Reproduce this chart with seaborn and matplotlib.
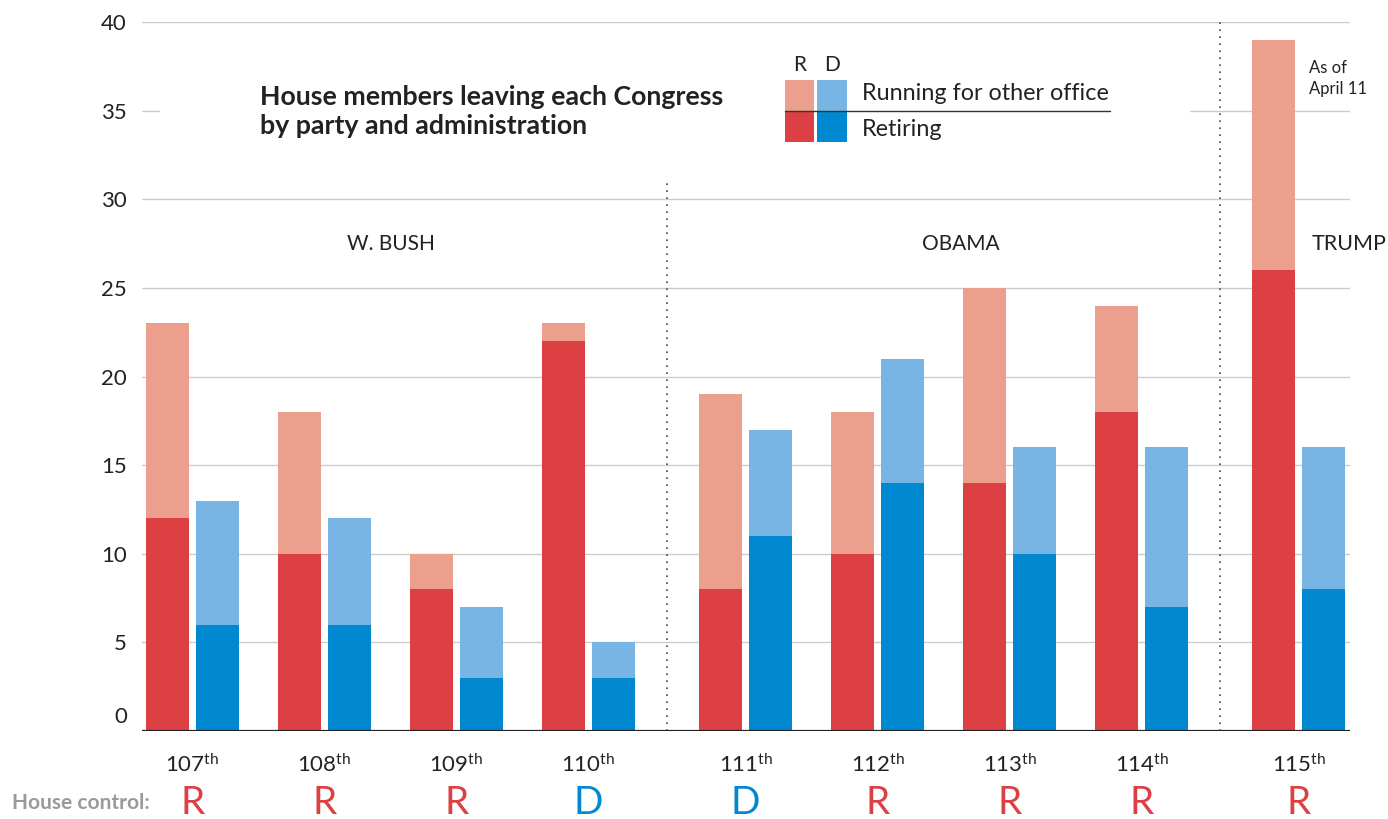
import pandas as pd
import matplotlib.pyplot as plt
import matplotlib.transforms as mtrans
from matplotlib.patches import Rectangle
from matplotlib.lines import Line2D
import seaborn as sns

# data
congress = ["107", "108", "109", "110", "111", "112", "113", "114", "115"]
admin = ["W. BUSH"] * 4 + ["OBAMA"] * 4 + ["TRUMP"]
control = ["R", "R", "R", "D", "D", "R", "R", "R", "R"]
r_total = [23, 18, 10, 23, 19, 18, 25, 24, 39]
r_retiring = [12, 10, 8, 22, 8, 10, 14, 18, 26]
d_total = [13, 12, 7, 5, 17, 21, 16, 16, 16]
d_retiring = [6, 6, 3, 3, 11, 14, 10, 7, 8]
yticks = [5, 10, 15, 20, 25, 30, 35, 40]

light = {"R": "#EB9F8C", "D": "#78B5E4"}
dark = {"R": "#DC4042", "D": "#0089D0"}

sns.set_style("white")
plt.rcParams['font.family'] = ['Lato', 'DejaVu Sans']
plt.rcParams['mathtext.default'] = 'regular'
TXT = "#222222"

# bar positions: one slot per congress, extra gap between administrations
admins = list(dict.fromkeys(admin))
pos = [i + 0.19 * admins.index(a) for i, a in enumerate(admin)]

df = pd.DataFrame({
    "pos": pos * 2,
    "party": ["R"] * len(pos) + ["D"] * len(pos),
    "total": r_total + d_total,
    "retiring": r_retiring + d_retiring,
})

W, H = 1388, 819
fx = lambda x: x / W
fy = lambda y: 1 - y / H

fig = plt.figure(figsize=(13.88, 8.19), dpi=100)
ax = fig.add_axes([fx(142), fy(731), fx(1350) - fx(142), fy(22) - fy(731)])

for col, pal in [("total", light), ("retiring", dark)]:
    sns.barplot(data=df, x="pos", y=col, hue="party", hue_order=["R", "D"],
                palette=pal, native_scale=True, width=0.76, gap=0.142,
                errorbar=None, legend=False, saturation=1, linewidth=0, ax=ax)

ax.set_xlim(-0.383, 8.769)
ax.set_ylim(0, 40)
ax.set_xlabel("")
ax.set_ylabel("")
sns.despine(ax=ax, left=True, bottom=True)

ax.set_yticks(yticks, [str(v) for v in yticks])
ax.tick_params(axis="y", length=0, pad=10.8, labelsize=16, labelcolor=TXT)
ax.annotate("0", xy=(0, 0), xycoords=("axes fraction", "data"), xytext=(-10.8, 10),
            textcoords="offset points", ha="right", va="center", fontsize=16, color=TXT)
ax.yaxis.grid(True, color="#cccccc", lw=1)
ax.set_axisbelow(True)
ax.axhline(0, color="#222222", lw=1.6, zorder=5)

ax.set_xticks(pos, [c + r"$^{th}$" for c in congress])
ax.tick_params(axis="x", length=0, pad=16, labelsize=16, labelcolor=TXT)

# administration separators and labels
for i in range(1, len(pos)):
    if admin[i] != admin[i - 1]:
        sx = (pos[i] + pos[i - 1]) / 2
        top = 31.1 if admin[i] == "OBAMA" else 40.1
        ax.plot([sx, sx], [0, top], color="#444444", lw=1.2, ls=(0, (1, 3.2)),
                solid_capstyle="butt", clip_on=False, zorder=4)

for a in admins:
    xs = [p for p, b in zip(pos, admin) if b == a]
    if a == "TRUMP":
        ax.text(xs[0] + 0.1, 27.5, a, ha="left", va="center", fontsize=15.5, color=TXT, clip_on=False)
    else:
        ax.text(sum(xs) / len(xs) + (0.13 if a == "OBAMA" else 0), 27.5, a,
                ha="center", va="center", fontsize=15, color=TXT)

ax.text(pos[-1] + 0.08, 36.8, "As of\nApril 11", ha="left", va="center", fontsize=12,
        color=TXT, linespacing=1.35)

# house control row
tr = mtrans.blended_transform_factory(ax.transData, fig.transFigure)
for p, c in zip(pos, control):
    ax.text(p, fy(803), c, transform=tr, ha="center", va="center", fontsize=28,
            color=dark[c])
fig.text(fx(150), fy(803), "House control:", ha="right", va="center", fontsize=15,
         fontweight="bold", color="#9a9a9a")

# hide the gridline behind title/legend
fig.patches.append(Rectangle((fx(160), fy(122)), fx(1190) - fx(160), fy(100) - fy(122),
                             transform=fig.transFigure, facecolor="white", edgecolor="none", zorder=1))

fig.text(fx(260), fy(111.5), "House members leaving each Congress\nby party and administration",
         ha="left", va="center", fontsize=19.3, fontweight="bold", color=TXT, linespacing=1.25)

# legend
for x0, x1, y0, y1, c in [(785, 814, 80, 111, light["R"]), (817, 847, 80, 111, light["D"]),
                          (785, 814, 111, 142, dark["R"]), (817, 847, 111, 142, dark["D"])]:
    fig.patches.append(Rectangle((fx(x0), fy(y1)), fx(x1) - fx(x0), fy(y0) - fy(y1),
                                 transform=fig.transFigure, facecolor=c, edgecolor="none", zorder=2))
fig.lines.append(Line2D([fx(785), fx(1110)], [fy(111), fy(111)], transform=fig.transFigure,
                        color="#333333", lw=1, zorder=3))
fig.text(fx(799.5), fy(65), "R", ha="center", va="center", fontsize=15, color=TXT)
fig.text(fx(832), fy(65), "D", ha="center", va="center", fontsize=15, color=TXT)
fig.text(fx(862), fy(93), "Running for other office", ha="left", va="center", fontsize=16.8, color=TXT)
fig.text(fx(862), fy(130), "Retiring", ha="left", va="center", fontsize=16.8, color=TXT)

fig.savefig("out.png", dpi=100)
